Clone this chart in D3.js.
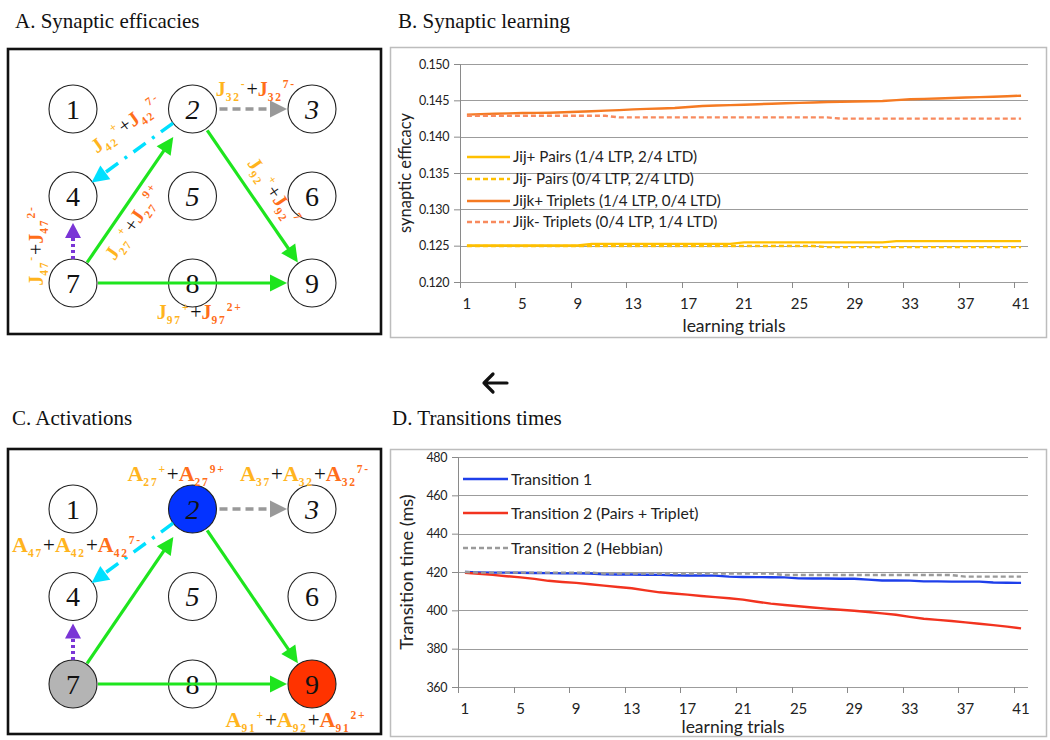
<!DOCTYPE html>
<html><head><meta charset="utf-8">
<script src="https://cdn.jsdelivr.net/npm/d3@7"></script>
<style>body{margin:0;background:#fff}svg{display:block}</style>
</head><body>
<svg id="c" width="1050" height="740"></svg>
<script>
// ================= DATA =================
const trials = d3.range(1, 42);
const xTickLabels = [1, 5, 9, 13, 17, 21, 25, 29, 33, 37, 41];
const effTicks = [0.120, 0.125, 0.130, 0.135, 0.140, 0.145, 0.150];
const timeTicks = [360, 380, 400, 420, 440, 460, 480];

const pairsPlus = [0.12503,0.12503,0.12503,0.12503,0.12503,0.12503,0.12503,0.12503,0.12503,
  0.12525,0.12525,0.12525,0.12525,0.12525,0.12525,0.12525,0.12525,0.12525,0.12525,0.12525,
  0.12545,0.12545,0.12545,0.12545,0.12545,0.12545,0.12545,0.12545,0.12545,0.12545,0.12545,
  0.12562,0.12562,0.12562,0.12562,0.12562,0.12562,0.12562,0.12562,0.12562,0.12562];
const pairsMinus = [0.12495,0.12495,0.12495,0.12495,0.12495,0.12495,0.12495,0.12495,0.12495,0.12495,
  0.12495,0.12495,0.12495,0.12495,0.12495,0.12495,0.12495,0.12495,0.12495,0.12495,
  0.12495,0.12495,0.12495,0.12495,0.12495,0.12495,
  0.12480,0.12480,0.12480,0.12480,0.12480,0.12480,0.12480,0.12480,0.12480,0.12480,
  0.12480,0.12480,0.12480,0.12480,0.12480];
const tripletsPlus = [0.14303,0.14310,0.14315,0.14320,0.14326,0.14328,0.14330,0.14335,0.14342,0.14350,
  0.14358,0.14365,0.14376,0.14382,0.14388,0.14395,0.14408,0.14422,0.14428,0.14434,
  0.14440,0.14447,0.14453,0.14459,0.14465,0.14471,0.14477,0.14481,0.14484,0.14488,
  0.14491,0.14503,0.14514,0.14520,0.14526,0.14532,0.14538,0.14544,0.14550,0.14557,0.14564];
const tripletsMinus = [0.14287,0.14287,0.14287,0.14287,0.14287,0.14287,0.14287,0.14287,0.14287,0.14287,0.14287,
  0.14265,0.14265,0.14265,0.14265,0.14265,0.14265,0.14265,0.14265,0.14265,0.14265,
  0.14265,0.14265,0.14265,0.14265,0.14265,0.14265,
  0.14248,0.14248,0.14248,0.14248,0.14248,0.14248,0.14248,0.14248,0.14248,0.14248,
  0.14248,0.14248,0.14248,0.14248];

const transition1 = [420.0,419.8,419.7,419.7,419.6,419.5,419.4,419.3,419.3,419.2,
  418.8,418.7,418.7,418.6,418.5,418.3,418.2,418.2,418.1,417.6,
  417.4,417.3,417.3,417.2,416.7,416.6,416.6,416.5,416.5,416.0,
  415.6,415.6,415.5,415.1,415.1,415.0,415.0,415.0,414.5,414.4,414.3];
const transition2 = [419.6,419.1,418.5,417.8,417.2,416.4,415.4,414.8,414.3,413.6,
  412.9,412.2,411.5,410.4,409.4,408.8,408.2,407.5,406.9,406.3,
  405.6,404.5,403.5,402.8,402.1,401.5,400.9,400.3,399.8,399.1,
  398.4,397.7,396.6,395.6,395.0,394.4,393.7,393.0,392.3,391.5,390.6];
const hebbian = [420.0,419.7,419.7,419.7,419.7,419.7,419.7,419.7,419.7,419.7,
  419.2,419.2,419.2,419.2,419.2,419.2,419.2,419.2,419.2,419.2,419.2,419.2,419.2,
  418.4,418.4,418.4,418.4,418.4,418.4,418.4,418.4,418.4,418.4,418.4,418.4,418.4,
  417.6,417.6,417.6,417.6,417.6];

const seriesB = [
  {name: "Jij+ Pairs (1/4 LTP, 2/4 LTD)", values: pairsPlus},
  {name: "Jij- Pairs (0/4 LTP, 2/4 LTD)", values: pairsMinus},
  {name: "Jijk+ Triplets (1/4 LTP, 0/4 LTD)", values: tripletsPlus},
  {name: "Jijk- Triplets (0/4 LTP, 1/4 LTD)", values: tripletsMinus}
];
const seriesD = [
  {name: "Transition 1", values: transition1},
  {name: "Transition 2 (Pairs + Triplet)", values: transition2},
  {name: "Transition 2 (Hebbian)", values: hebbian}
];

// network diagram data
const nodeIds = [1,2,3,4,5,6,7,8,9];
const edges = [[7,2,"green"],[2,9,"green"],[7,9,"green"],[2,3,"gray"],[2,4,"cyan"],[7,4,"purple"]];
const activeNodes = {2: "blue", 7: "gray", 9: "red"};

// ================= STYLES =================
const styleB = [
  {color: "#FFC000", dash: null},
  {color: "#FFC000", dash: "5,3"},
  {color: "#F57A22", dash: null},
  {color: "#F88A5E", dash: "5,3"}
];
const styleD = [
  {color: "#1E3FEA", dash: null},
  {color: "#F2331F", dash: null},
  {color: "#9A9A9A", dash: "5,3"}
];
const edgeStyle = {
  green:  {color: "#1EE51E", width: 3.2, dash: null, head: 17, hw: 8.5},
  gray:   {color: "#999999", width: 3.5, dash: "8,5", head: 17, hw: 8.5},
  cyan:   {color: "#00E0FF", width: 3.5, dash: "15,8,3,8", head: 17, hw: 8.5},
  purple: {color: "#7A35D6", width: 4, dash: "3,3", head: 15, hw: 8}
};
const nodeColor = {blue: "#0433FF", gray: "#B4B4B4", red: "#FF3300"};
const Y = "#FFB41E", O = "#FF6E1A", K = "#111";

const svg = d3.select("#c");
const chartFont = "Lato, 'Open Sans', sans-serif";
const serif = "'Liberation Serif', 'DejaVu Serif', serif";

// ================= PANEL TITLES =================
const titles = [["A. Synaptic efficacies", 15, 28], ["B. Synaptic learning", 398, 28],
  ["C. Activations", 12, 425], ["D. Transitions times", 392, 425]];
svg.selectAll("text.title").data(titles).join("text").attr("class", "title")
  .attr("x", d => d[1]).attr("y", d => d[2]).text(d => d[0])
  .style("font-family", serif).style("font-size", "21px").attr("fill", "#111");

// arrow between panels
svg.append("path").attr("d", "M484,383 H507 M493,374 L484,383 L493,392")
  .attr("fill", "none").attr("stroke", "#111").attr("stroke-width", 3.2)
  .attr("stroke-linecap", "round").attr("stroke-linejoin", "round");

// ================= LINE CHARTS =================
function lineChart(cfg) {
  const g = svg.append("g");
  g.append("rect").attr("x", cfg.frame[0] + 0.5).attr("y", cfg.frame[1] + 0.5)
    .attr("width", cfg.frame[2]).attr("height", cfg.frame[3])
    .attr("fill", "#fff").attr("stroke", "#BDBDBD").attr("stroke-width", 1.5);
  const x = d3.scaleBand().domain(trials).range([cfg.left, cfg.right]);
  const cx = d => x(d) + x.bandwidth() / 2;
  const y = d3.scaleLinear().domain(cfg.yDomain).range([cfg.bottom, cfg.top]);

  g.selectAll("line.grid").data(cfg.yTicks).join("line").attr("class", "grid")
    .attr("x1", cfg.left).attr("x2", cfg.right)
    .attr("y1", d => Math.round(y(d)) + 0.5).attr("y2", d => Math.round(y(d)) + 0.5)
    .attr("stroke", "#9C9C9C").attr("stroke-width", 1.2);

  const ya = g.append("g").attr("transform", `translate(${cfg.left},0)`)
    .call(d3.axisLeft(y).tickValues(cfg.yTicks).tickSize(6).tickPadding(5).tickFormat(cfg.fmt));
  ya.select(".domain").attr("stroke", "#8A8A8A");
  ya.selectAll(".tick line").attr("stroke", "#8A8A8A");
  ya.selectAll("text").style("font-family", chartFont).style("font-size", "12.5px")
    .attr("fill", "#222").style("letter-spacing", "-0.4px");

  const xa = g.append("g").attr("transform", `translate(0,${cfg.bottom})`)
    .call(d3.axisBottom(x).tickValues(xTickLabels).tickSize(0).tickPadding(cfg.xPad));
  xa.select(".domain").remove();
  xa.selectAll("text").style("font-family", chartFont).style("font-size", "15px").attr("fill", "#222");
  g.selectAll("line.xt").data(xTickLabels).join("line").attr("class", "xt")
    .attr("x1", d => Math.round(x(d)) + 0.5).attr("x2", d => Math.round(x(d)) + 0.5)
    .attr("y1", cfg.bottom).attr("y2", cfg.bottom + 6).attr("stroke", "#8A8A8A");

  const line = d3.line().x((d, i) => cx(trials[i])).y(d => y(d));
  g.selectAll("path.s").data(cfg.series).join("path").attr("class", "s")
    .attr("d", d => line(d.values)).attr("fill", "none")
    .attr("stroke", (d, i) => cfg.styles[i].color).attr("stroke-width", 2.4)
    .attr("stroke-dasharray", (d, i) => cfg.styles[i].dash);

  // legend
  const lg = g.selectAll("g.lg").data(cfg.series).join("g").attr("class", "lg")
    .attr("transform", (d, i) => `translate(0,${cfg.legendY[i]})`);
  lg.append("line").attr("x1", cfg.legendX[0]).attr("x2", cfg.legendX[1])
    .attr("stroke", (d, i) => cfg.styles[i].color).attr("stroke-width", 2.4)
    .attr("stroke-dasharray", (d, i) => cfg.styles[i].dash);
  lg.append("text").attr("x", cfg.legendX[1] + 3).attr("dy", "0.36em").text(d => d.name)
    .style("font-family", chartFont).style("font-size", cfg.legendSize).attr("fill", "#222");

  g.append("text").attr("transform", `translate(${cfg.yTitleX},${(cfg.top + cfg.bottom) / 2}) rotate(-90)`)
    .attr("text-anchor", "middle").text(cfg.yTitle)
    .style("font-family", chartFont).style("font-size", cfg.yTitleSize).attr("fill", "#222");
  g.append("text").attr("x", (cfg.left + cfg.right) / 2 - 10).attr("y", cfg.xTitleY)
    .attr("text-anchor", "middle").text("learning trials")
    .style("font-family", chartFont).style("font-size", "17.5px").attr("fill", "#222");
}

lineChart({frame: [390, 47, 656, 290], left: 460, right: 1028, top: 64, bottom: 282,
  yDomain: [0.120, 0.150], yTicks: effTicks, fmt: d3.format(".3f"),
  series: seriesB, styles: styleB, xPad: 16, xTitleY: 332,
  legendX: [467, 510], legendY: [157, 179, 201, 222], legendSize: "15.2px",
  yTitle: "synaptic efficacy", yTitleX: 411, yTitleSize: "16.5px"});

lineChart({frame: [390, 449, 656, 287], left: 458, right: 1028, top: 457, bottom: 687,
  yDomain: [360, 480], yTicks: timeTicks, fmt: d3.format("d"),
  series: seriesD, styles: styleD, xPad: 16, xTitleY: 733,
  legendX: [463, 508], legendY: [479, 513, 548], legendSize: "15.8px",
  yTitle: "Transition time (ms)", yTitleX: 413, yTitleSize: "18.2px"});

// ================= NETWORK DIAGRAMS =================
function richText(g, parts, sizes) {
  const t = g.append("text").attr("text-anchor", "middle");
  const shift = {m: 0, op: 0, sub: 5, sup: -8};
  let cur = 0;
  parts.forEach(([txt, col, kind]) => {
    const s = t.append("tspan").text(txt).attr("fill", col).attr("dy", shift[kind] - cur)
      .style("font-family", serif);
    cur = shift[kind];
    if (kind === "m") s.style("font-size", sizes.m + "px").style("font-weight", "bold");
    else if (kind === "op") s.style("font-size", sizes.op + "px");
    else s.style("font-size", sizes.s + "px").style("font-weight", "bold").style("letter-spacing", "1.8px");
  });
  return t;
}

function network(cfg) {
  const g = svg.append("g");
  g.append("rect").attr("x", 8).attr("y", cfg.rowY.range()[0] - 60).attr("width", 373).attr("height", 285)
    .attr("fill", "#fff").attr("stroke", "#111").attr("stroke-width", 2.6);
  const pos = id => [cfg.colX((id - 1) % 3), cfg.rowY(Math.floor((id - 1) / 3))];
  const R = 24;

  // nodes
  const ng = g.selectAll("g.node").data(nodeIds).join("g").attr("class", "node")
    .attr("transform", d => `translate(${pos(d)})`);
  ng.append("circle").attr("r", R).attr("stroke", "#222").attr("stroke-width", 1.1)
    .attr("fill", d => cfg.active && activeNodes[d] ? nodeColor[activeNodes[d]] : "#fff");
  ng.append("text").attr("text-anchor", "middle").attr("dy", "0.34em").text(d => d)
    .style("font-family", serif).style("font-size", "28px")
    .style("font-style", d => [2, 3, 5].includes(d) ? "italic" : "normal").attr("fill", "#111");

  // edges
  edges.forEach(([s, t, kind], i) => {
    const st = edgeStyle[kind];
    const [x1, y1] = pos(s), [x2, y2] = pos(t);
    const len = Math.hypot(x2 - x1, y2 - y1), ux = (x2 - x1) / len, uy = (y2 - y1) / len;
    const a = cfg.pads[i][0], b = cfg.pads[i][1];
    const sx = x1 + ux * a, sy = y1 + uy * a;
    const tx = x2 - ux * b, ty = y2 - uy * b;
    const bx = tx - ux * st.head, by = ty - uy * st.head;
    g.append("line").attr("x1", sx).attr("y1", sy).attr("x2", bx + ux * 2).attr("y2", by + uy * 2)
      .attr("stroke", st.color).attr("stroke-width", st.width).attr("stroke-dasharray", st.dash);
    g.append("path").attr("d", `M${tx},${ty} L${bx - uy * st.hw},${by + ux * st.hw} L${bx + uy * st.hw},${by - ux * st.hw} Z`)
      .attr("fill", st.color);
  });

  // labels
  cfg.labels.forEach(L => {
    let px, py, ang = 0;
    if (L.from !== undefined) {
      const [a, b] = L.from;
      const [x1, y1] = pos(a), [x2, y2] = pos(b);
      const len = Math.hypot(x2 - x1, y2 - y1), ux = (x2 - x1) / len, uy = (y2 - y1) / len;
      px = x1 + (x2 - x1) * L.t + uy * L.off;
      py = y1 + (y2 - y1) * L.t - ux * L.off;
      ang = Math.atan2(uy, ux) * 180 / Math.PI;
    } else {
      const [nx, ny] = pos(L.node);
      px = nx + L.dx; py = ny + L.dy;
    }
    const t = richText(g, L.parts, cfg.sizes);
    t.attr("transform", `translate(${px},${py}) rotate(${ang})`);
  });
}

const colX = d3.scalePoint().domain([0, 1, 2]).range([73, 312]);

const J = (ij, supA, supB) => [["J", Y, "m"], [ij, Y, "sub"], [supA, Y, "sup"], ["+", K, "op"],
  ["J", O, "m"], [ij, O, "sub"], [supB, O, "sup"]];

network({
  colX, rowY: d3.scalePoint().domain([0, 1, 2]).range([109, 283]), active: false,
  pads: [[25, 34], [26, 25], [25, 25], [27, 25], [24, 23], [24, 27]],
  sizes: {m: 20, op: 20, s: 11.5},
  labels: [
    {from: [4, 2], t: 0.58, off: 20, parts: J("42", "+", "7-")},
    {from: [7, 2], t: 0.40, off: -22, parts: J("27", "+", "9+")},
    {from: [2, 9], t: 0.54, off: 14, parts: J("92", "+", "7")},
    {from: [7, 9], t: 0.53, off: -36, parts: J("97", "+", "2+")},
    {from: [2, 3], t: 0.53, off: 13, parts: J("32", "-", "7-")},
    {from: [7, 4], t: 0.43, off: 30, parts: J("47", "-", "2-")}
  ]
});

network({
  colX, rowY: d3.scalePoint().domain([0, 1, 2]).range([509, 684]), active: true,
  pads: [[25, 34], [26, 25], [25, 25], [27, 25], [24, 23], [24, 27]],
  sizes: {m: 22, op: 21, s: 11.5},
  labels: [
    {node: 2, dx: -16, dy: -28, parts: [["A", Y, "m"], ["27", Y, "sub"], ["+", Y, "sup"], ["+", K, "op"], ["A", O, "m"], ["27", O, "sub"], ["9+", O, "sup"]]},
    {node: 3, dx: -7, dy: -28, parts: [["A", Y, "m"], ["37", Y, "sub"], ["+", K, "op"], ["A", Y, "m"], ["32", Y, "sub"], ["+", K, "op"], ["A", O, "m"], ["32", O, "sub"], ["7-", O, "sup"]]},
    {node: 4, dx: 4, dy: -45, parts: [["A", Y, "m"], ["47", Y, "sub"], ["+", K, "op"], ["A", Y, "m"], ["42", Y, "sub"], ["+", K, "op"], ["A", O, "m"], ["42", O, "sub"], ["7-", O, "sup"]]},
    {node: 9, dx: -16, dy: 43, parts: [["A", Y, "m"], ["91", Y, "sub"], ["+", Y, "sup"], ["+", K, "op"], ["A", Y, "m"], ["92", Y, "sub"], ["+", K, "op"], ["A", O, "m"], ["91", O, "sub"], ["2+", O, "sup"]]}
  ]
});
</script>
</body></html>
